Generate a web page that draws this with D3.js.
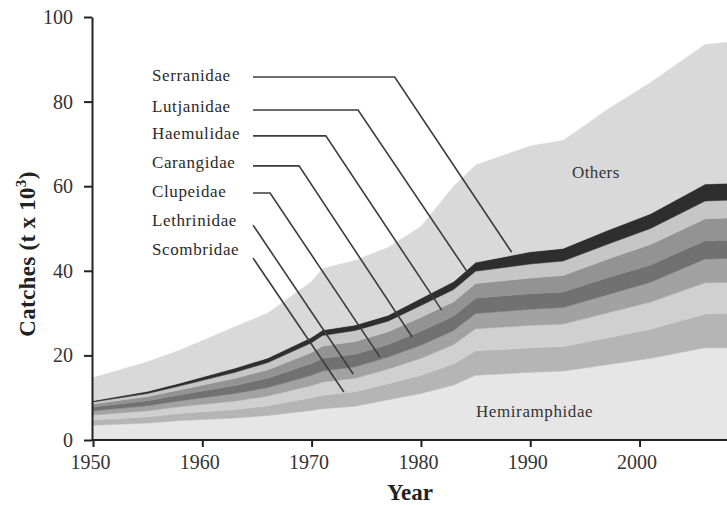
<!DOCTYPE html>
<html>
<head>
<meta charset="utf-8">
<script src="https://cdn.jsdelivr.net/npm/d3@7"></script>
<style>
  html, body { margin: 0; padding: 0; background: #fff; }
  svg { display: block; }
</style>
</head>
<body>
<svg id="chart" width="727" height="505"></svg>
<script>
// ---------- DATA ----------
const years = [1950, 1955, 1958, 1963, 1966, 1970, 1971, 1974, 1977, 1980, 1983, 1985, 1990, 1993, 1997, 2001, 2006, 2008];

// series in stacking order (bottom -> top)
const seriesNames = ["Hemiramphidae", "Scombridae", "Lethrinidae", "Clupeidae", "Carangidae", "Haemulidae", "Lutjanidae", "Serranidae", "Others"];

const hemiramphidae = [3.5, 4.0, 4.6, 5.2, 5.8, 7.0, 7.4, 8.0, 9.5, 11.0, 13.0, 15.3, 16.0, 16.3, 17.8, 19.3, 21.8, 21.8];
const scombridae    = [1.2, 1.5, 1.7, 2.0, 2.3, 3.0, 3.2, 3.4, 3.8, 4.3, 5.0, 5.8, 5.8, 5.8, 6.3, 6.9, 8.0, 8.1];
const lethrinidae   = [1.2, 1.4, 1.6, 2.0, 2.3, 2.9, 3.1, 3.2, 3.5, 4.0, 4.6, 5.2, 5.3, 5.3, 5.9, 6.4, 7.4, 7.4];
const clupeidae     = [1.0, 1.2, 1.4, 1.8, 2.0, 2.4, 2.6, 2.7, 2.8, 3.1, 3.3, 3.6, 3.8, 3.9, 4.3, 4.7, 5.6, 5.6];
const carangidae    = [0.9, 1.2, 1.4, 1.9, 2.2, 2.8, 3.0, 3.0, 3.0, 3.3, 3.4, 3.6, 3.7, 3.7, 4.0, 4.1, 4.3, 4.3];
const haemulidae    = [0.7, 1.0, 1.2, 1.7, 2.0, 2.6, 2.9, 3.0, 3.0, 3.3, 3.4, 3.5, 3.7, 3.9, 4.4, 4.8, 5.2, 5.3];
const lutjanidae    = [0.5, 0.7, 0.9, 1.4, 1.7, 2.3, 2.5, 2.6, 2.5, 2.8, 2.9, 2.9, 3.3, 3.4, 3.5, 3.8, 4.2, 4.2];
const serranidae    = [0.3, 0.5, 0.7, 1.0, 1.1, 1.3, 1.3, 1.3, 1.4, 1.7, 1.9, 2.1, 2.9, 3.0, 3.3, 3.5, 4.0, 4.0];
const others        = [5.4, 7.0, 7.8, 9.8, 10.6, 13.2, 14.5, 15.3, 16.0, 17.0, 22.5, 23.0, 25.0, 25.5, 28.5, 31.0, 33.0, 33.3];

const seriesValues = [hemiramphidae, scombridae, lethrinidae, clupeidae, carangidae, haemulidae, lutjanidae, serranidae, others];

const xTicks = [1950, 1960, 1970, 1980, 1990, 2000];
const yTicks = [0, 20, 40, 60, 80, 100];

// callout labels
const calloutNames  = ["Serranidae", "Lutjanidae", "Haemulidae", "Carangidae", "Clupeidae", "Lethrinidae", "Scombridae"];
const calloutLabelY = [85.8, 78.5, 72.1, 65.3, 58.4, 51.5, 44.7];
const calloutLineY  = [85.8, 78.0, 71.9, 64.8, 58.4, 50.8, 43.0];
const calloutCornerX = [1977.6, 1974.25, 1971.3, 1968.85, 1966.2, null, null];
const calloutEndX   = [1988.3, 1984.3, 1981.9, 1979.2, 1976.25, 1973.8, 1972.95];
const calloutEndY   = [44.4, 39.5, 30.7, 24.35, 19.6, 15.6, 11.35];
const calloutTextX = 1955.4;
const calloutLineX0 = 1964.64;

// ---------- STYLE ----------
const colors = {
  Hemiramphidae: "#e6e6e6",
  Scombridae: "#b5b5b5",
  Lethrinidae: "#d0d0d0",
  Clupeidae: "#a2a2a2",
  Carangidae: "#717171",
  Haemulidae: "#939393",
  Lutjanidae: "#c6c6c6",
  Serranidae: "#2e2e2e",
  Others: "#d9d9d9"
};

const svg = d3.select("#chart");
const x = d3.scaleLinear().domain([1950, 2008]).range([93, 727]);
const y = d3.scaleLinear().domain([0, 100]).range([440, 17]);

const table = years.map((yr, i) => {
  const row = { year: yr };
  seriesNames.forEach((n, k) => row[n] = seriesValues[k][i]);
  return row;
});

const layers = d3.stack().keys(seriesNames)(table);

const area = d3.area()
  .x(d => x(d.data.year))
  .y0(d => y(d[0]))
  .y1(d => y(d[1]))
  .curve(d3.curveLinear);

svg.append("g").selectAll("path")
  .data(layers)
  .join("path")
  .attr("d", area)
  .attr("fill", d => colors[d.key])
  .attr("stroke", d => colors[d.key])
  .attr("stroke-width", 0.5);

// callouts
const lineColor = "#3c3c3c";
const cg = svg.append("g");
calloutNames.forEach((name, i) => {
  const pts = [[calloutLineX0, calloutLineY[i]]];
  if (calloutCornerX[i] !== null) pts.push([calloutCornerX[i], calloutLineY[i]]);
  pts.push([calloutEndX[i], calloutEndY[i]]);
  cg.append("path")
    .attr("d", d3.line().x(p => x(p[0])).y(p => y(p[1]))(pts))
    .attr("fill", "none")
    .attr("stroke", lineColor)
    .attr("stroke-width", 1.6);
  cg.append("text")
    .attr("x", x(calloutTextX))
    .attr("y", y(calloutLabelY[i]))
    .attr("dominant-baseline", "middle")
    .attr("font-family", "Liberation Serif, serif")
    .attr("font-size", 17)
    .attr("letter-spacing", 0.6)
    .attr("fill", "#2a2a2a")
    .text(name);
});

// in-area labels
svg.append("text")
  .attr("x", x(1996.0)).attr("y", y(62.9))
  .attr("text-anchor", "middle").attr("dominant-baseline", "middle")
  .attr("font-family", "Liberation Serif, serif").attr("font-size", 17)
  .attr("letter-spacing", 0.4)
  .attr("fill", "#333").text("Others");
svg.append("text")
  .attr("x", x(1990.4)).attr("y", y(6.4))
  .attr("text-anchor", "middle").attr("dominant-baseline", "middle")
  .attr("font-family", "Liberation Serif, serif").attr("font-size", 17)
  .attr("letter-spacing", 0.6)
  .attr("fill", "#333").text("Hemiramphidae");

// axes
const xAxis = d3.axisBottom(x).tickValues(xTicks).tickFormat(d3.format("d")).tickSize(7).tickSizeOuter(0);
const yAxis = d3.axisLeft(y).tickValues(yTicks).tickSize(8).tickSizeOuter(0);

const gx = svg.append("g").attr("transform", `translate(0,${y(0)})`).call(xAxis);
const gy = svg.append("g").attr("transform", `translate(${x(1950) - 1},0)`).call(yAxis);

[gx, gy].forEach(g => {
  g.select(".domain").attr("stroke", "#222").attr("stroke-width", 2);
  g.selectAll(".tick line").attr("stroke", "#222").attr("stroke-width", 2);
  g.selectAll(".tick text")
    .attr("font-family", "Liberation Serif, serif")
    .attr("font-size", 20)
    .attr("fill", "#333");
});
gx.select(".domain").attr("d", `M${x(1950) - 1},0H727`);
gx.selectAll(".tick text").attr("dy", "0.95em").attr("dx", -3);
gy.selectAll(".tick text").attr("x", -19);

// axis titles
svg.append("text")
  .attr("x", 410).attr("y", 500)
  .attr("text-anchor", "middle")
  .attr("font-family", "Liberation Serif, serif")
  .attr("font-weight", "bold").attr("font-size", 23)
  .attr("fill", "#222")
  .text("Year");

const yt = svg.append("text")
  .attr("transform", `translate(35,254) rotate(-90)`)
  .attr("text-anchor", "middle")
  .attr("font-family", "Liberation Serif, serif")
  .attr("font-weight", "bold").attr("font-size", 23)
  .attr("letter-spacing", 0.3)
  .attr("fill", "#222");
yt.append("tspan").text("Catches (t x 10");
yt.append("tspan").attr("font-size", 15).attr("dy", -9).text("3");
yt.append("tspan").attr("dy", 9).text(")");
</script>
</body>
</html>
